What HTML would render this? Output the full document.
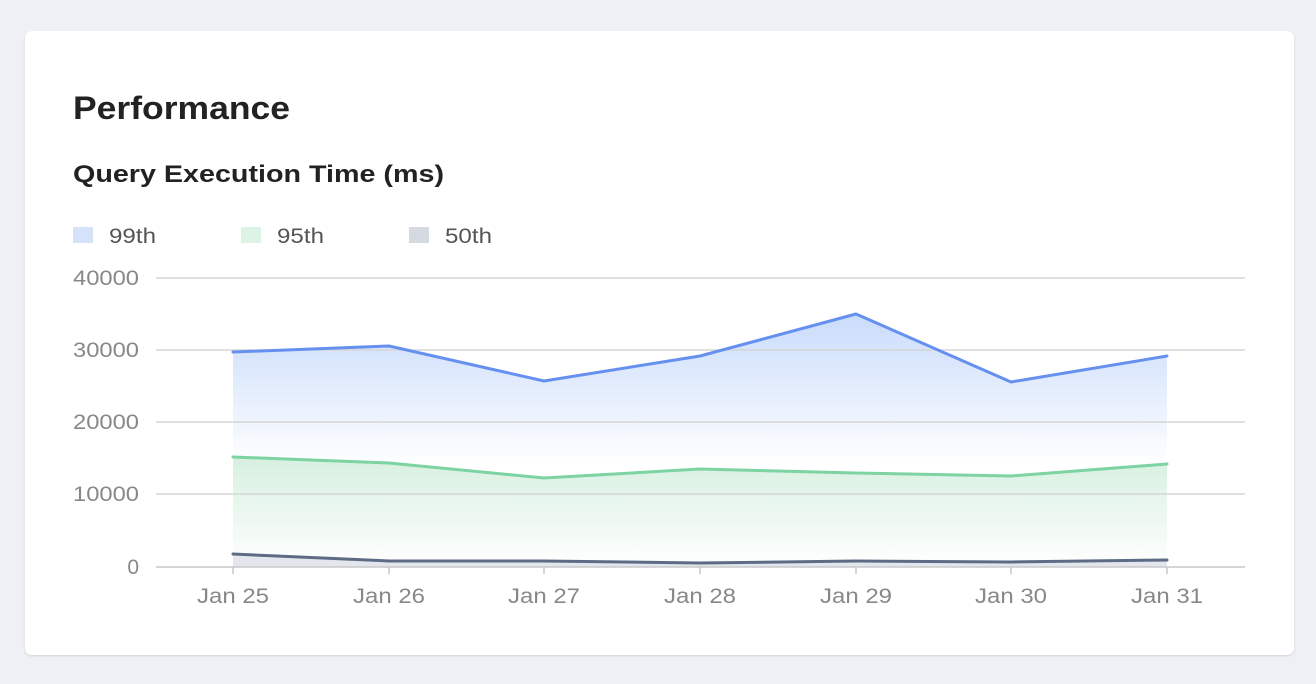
<!DOCTYPE html>
<html><head><style>
html,body{margin:0;padding:0;background:#eef0f5;width:1316px;height:684px;overflow:hidden}
svg{display:block}
text{font-family:"Liberation Sans",sans-serif}
</style></head><body>
<svg width="1316" height="684" viewBox="0 0 1316 684">
<defs>
<linearGradient id="g1" x1="0" y1="314" x2="0" y2="567" gradientUnits="userSpaceOnUse">
<stop offset="0" stop-color="#c9dcfb"/><stop offset="0.6" stop-color="#ffffff"/></linearGradient>
<linearGradient id="g2" x1="0" y1="457" x2="0" y2="567" gradientUnits="userSpaceOnUse">
<stop offset="0" stop-color="#d7f0e0"/><stop offset="1" stop-color="#ffffff"/></linearGradient>
<filter id="sh" x="-5%" y="-5%" width="110%" height="110%"><feDropShadow dx="0" dy="1" stdDeviation="1" flood-color="#000" flood-opacity="0.12"/></filter>
</defs>
<rect x="25" y="31" width="1269" height="624" rx="7" fill="#fff" filter="url(#sh)"/>
<text x="73" y="119" font-size="32" font-weight="bold" fill="#222" textLength="217" lengthAdjust="spacingAndGlyphs">Performance</text>
<text x="73" y="182" font-size="24" font-weight="bold" fill="#222" textLength="371" lengthAdjust="spacingAndGlyphs">Query Execution Time (ms)</text>
<rect x="73" y="227" width="20" height="16" fill="#d6e2fa"/>
<text x="109" y="243" font-size="21" fill="#555" textLength="47" lengthAdjust="spacingAndGlyphs">99th</text>
<rect x="241" y="227" width="20" height="16" fill="#dcf3e6"/>
<text x="277" y="243" font-size="21" fill="#555" textLength="47" lengthAdjust="spacingAndGlyphs">95th</text>
<rect x="409" y="227" width="20" height="16" fill="#d5d9e1"/>
<text x="445" y="243" font-size="21" fill="#555" textLength="47" lengthAdjust="spacingAndGlyphs">50th</text>
<path d="M233,352 L389,346 L544,381 L700,356 L856,314 L1011,382 L1167,356 L1167,567 L233,567Z" fill="url(#g1)"/>
<path d="M233,457 L389,463 L544,478 L700,469 L856,473 L1011,476 L1167,464 L1167,567 L233,567Z" fill="url(#g2)"/>
<path d="M233,554 L389,561 L544,561 L700,563 L856,561 L1011,562 L1167,560 L1167,567 L233,567Z" fill="#e3e6ec"/>
<g stroke="#d6d6d6" stroke-width="1.5">
<line x1="156" y1="278" x2="1245" y2="278"/><line x1="156" y1="350" x2="1245" y2="350"/>
<line x1="156" y1="422" x2="1245" y2="422"/><line x1="156" y1="494" x2="1245" y2="494"/>
</g>
<g font-size="21" fill="#888" text-anchor="end">
<text x="139" y="285" textLength="66" lengthAdjust="spacingAndGlyphs">40000</text><text x="139" y="357" textLength="66" lengthAdjust="spacingAndGlyphs">30000</text><text x="139" y="429" textLength="66" lengthAdjust="spacingAndGlyphs">20000</text><text x="139" y="501" textLength="66" lengthAdjust="spacingAndGlyphs">10000</text><text x="139" y="574">0</text>
</g>
<g fill="none" stroke-width="3" stroke-linejoin="round" stroke-linecap="round">
<polyline points="233,352 389,346 544,381 700,356 856,314 1011,382 1167,356" stroke="#6690f0"/>
<polyline points="233,457 389,463 544,478 700,469 856,473 1011,476 1167,464" stroke="#7dd3a2"/>
<polyline points="233,554 389,561 544,561 700,563 856,561 1011,562 1167,560" stroke="#5d6b85"/>
</g>
<line x1="156" y1="567" x2="1245" y2="567" stroke="#c8c8c8" stroke-width="1.5"/>
<g stroke="#c8c8c8" stroke-width="1.5">
<line x1="233" y1="567" x2="233" y2="574"/><line x1="389" y1="567" x2="389" y2="574"/><line x1="544" y1="567" x2="544" y2="574"/><line x1="700" y1="567" x2="700" y2="574"/><line x1="856" y1="567" x2="856" y2="574"/><line x1="1011" y1="567" x2="1011" y2="574"/><line x1="1167" y1="567" x2="1167" y2="574"/>
</g>
<g font-size="21" fill="#888" text-anchor="middle">
<text x="233" y="603" textLength="72" lengthAdjust="spacingAndGlyphs">Jan 25</text><text x="389" y="603" textLength="72" lengthAdjust="spacingAndGlyphs">Jan 26</text><text x="544" y="603" textLength="72" lengthAdjust="spacingAndGlyphs">Jan 27</text><text x="700" y="603" textLength="72" lengthAdjust="spacingAndGlyphs">Jan 28</text><text x="856" y="603" textLength="72" lengthAdjust="spacingAndGlyphs">Jan 29</text><text x="1011" y="603" textLength="72" lengthAdjust="spacingAndGlyphs">Jan 30</text><text x="1167" y="603" textLength="72" lengthAdjust="spacingAndGlyphs">Jan 31</text>
</g>
</svg>
</body></html>
